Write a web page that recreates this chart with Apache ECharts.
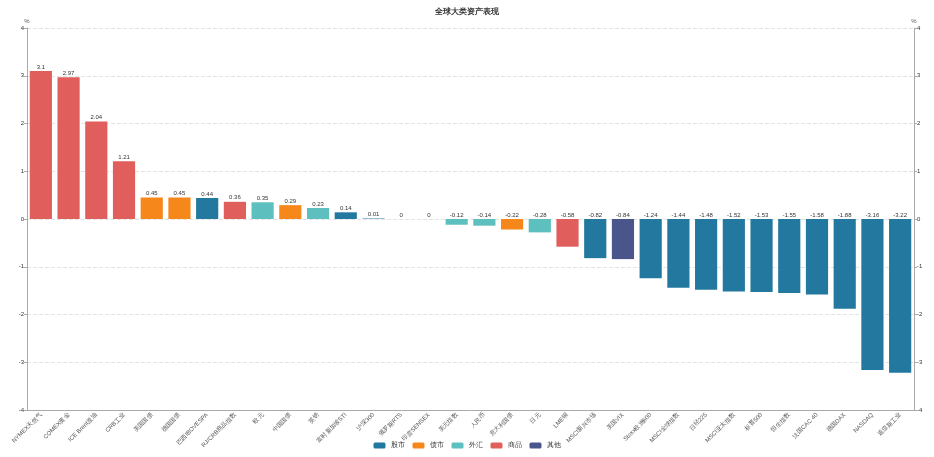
<!DOCTYPE html>
<html><head><meta charset="utf-8">
<script src="https://cdn.jsdelivr.net/npm/echarts@6/dist/echarts.min.js"></script>
<style>html,body{margin:0;padding:0;background:#fff}#c{width:934px;height:457px}</style>
</head><body><div id="c"></div>
<script>
const categories = ['NYMEX天然气','COMEX黄金','ICE Brent原油','CRB工业','美国国债','德国国债','巴西IBOVESPA','RJ/CRB商品指数','欧元','中国国债','英镑','富时新加坡STI','沪深300','俄罗斯RTS','印度SENSEX','美元指数','人民币','意大利国债','日元','LME铜','MSCI新兴市场','美国VIX','Stoxx欧洲600','MSCI全球指数','日经225','MSCI亚太指数','标普500','恒生指数','法国CAC 40','德国DAX','NASDAQ','道琼斯工业'];
const values = [3.1,2.97,2.04,1.21,0.45,0.45,0.44,0.36,0.35,0.29,0.23,0.14,0.01,0,0,-0.12,-0.14,-0.22,-0.28,-0.58,-0.82,-0.84,-1.24,-1.44,-1.48,-1.52,-1.53,-1.55,-1.58,-1.88,-3.16,-3.22];
const types = ['商品','商品','商品','商品','债市','债市','股市','商品','外汇','债市','外汇','股市','股市','股市','股市','外汇','外汇','债市','外汇','商品','股市','其他','股市','股市','股市','股市','股市','股市','股市','股市','股市','股市'];
const groups = ['股市','债市','外汇','商品','其他'];
const colors = ['#23789f','#f5871b','#5ebfbf','#e05e5c','#4a558b'];

const series = groups.map((g,i)=>({
  name:g, type:'bar', stack:'all', barCategoryGap:'20%',
  itemStyle:{color:colors[i]},
  label:{show:true, position:'top', fontSize:6, color:'#333', distance:1,
    formatter:p=>String(p.value)},
  data: values.map((v,j)=> types[j]===g ? v : '-')
}));

const yAxisBase = {
  type:'value', min:-4, max:4, interval:1, name:'%',
  nameGap:4, nameTextStyle:{fontSize:6,color:'#555'},
  axisLine:{show:true,lineStyle:{color:'#aaa'}},
  axisTick:{show:true,length:3,lineStyle:{color:'#aaa'}},
  axisLabel:{fontSize:6,color:'#333',margin:3}
};
const chart = echarts.init(document.getElementById('c'));
chart.setOption({
  animation:false,
  title:{text:'全球大类资产表现',left:'center',top:3,textStyle:{fontSize:8,fontWeight:'bold',color:'#333'}},
  legend:{bottom:3,itemWidth:12,itemHeight:6,itemGap:8,textStyle:{fontSize:7,color:'#333'},data:groups},
  grid:{left:27,right:20,top:28,bottom:47},
  xAxis:{type:'category',data:categories,
    axisLine:{onZero:false,lineStyle:{color:'#aaa'}},
    axisTick:{alignWithLabel:true,length:3,lineStyle:{color:'#aaa'}},
    axisLabel:{rotate:45,fontSize:6,color:'#555',interval:0,margin:4}},
  yAxis:[
    Object.assign({},yAxisBase,{position:'left',splitLine:{show:true,lineStyle:{type:'dashed',color:'#e3e3e3'}}}),
    Object.assign({},yAxisBase,{position:'right',splitLine:{show:false}})
  ],
  series
});
</script></body></html>
